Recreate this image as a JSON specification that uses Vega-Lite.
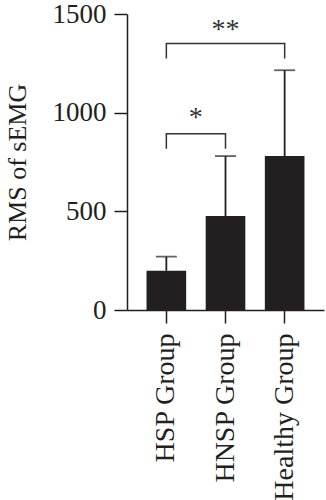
{
  "$schema": "https://vega.github.io/schema/vega-lite/v6.json",
  "autosize": "none",
  "width": 197,
  "height": 296,
  "padding": {"left": 127, "top": 14, "right": 2, "bottom": 190},
  "background": "white",
  "config": {
    "view": {"stroke": null},
    "font": "Liberation Serif"
  },
  "datasets": {
    "bars": [
      {"group": "HSP Group", "mean": 199, "upper": 270},
      {"group": "HNSP Group", "mean": 476, "upper": 780},
      {"group": "Healthy Group", "mean": 780, "upper": 1215}
    ],
    "brackets": [
      {"pair": "a", "group": "HSP Group", "y": 817, "i": 1},
      {"pair": "a", "group": "HSP Group", "y": 893, "i": 2},
      {"pair": "a", "group": "HNSP Group", "y": 893, "i": 3},
      {"pair": "a", "group": "HNSP Group", "y": 817, "i": 4},
      {"pair": "b", "group": "HSP Group", "y": 1274, "i": 1},
      {"pair": "b", "group": "HSP Group", "y": 1351, "i": 2},
      {"pair": "b", "group": "Healthy Group", "y": 1351, "i": 3},
      {"pair": "b", "group": "Healthy Group", "y": 1274, "i": 4}
    ],
    "star1": [{"group": "HSP Group", "y": 930, "label": "*"}],
    "star2": [{"group": "HNSP Group", "y": 1380, "label": "**"}]
  },
  "encoding": {
    "x": {
      "field": "group",
      "type": "nominal",
      "sort": ["HSP Group", "HNSP Group", "Healthy Group"],
      "scale": {"paddingInner": 0.33, "paddingOuter": 0.33},
      "axis": {
        "title": null,
        "labelAngle": -90,
        "labelFont": "Liberation Serif",
        "labelFontSize": 28,
        "labelColor": "#231f20",
        "labelPadding": 10,
        "tickSize": 13,
        "tickWidth": 1.5,
        "tickColor": "#231f20",
        "domainColor": "#231f20",
        "domainWidth": 1.5
      }
    }
  },
  "layer": [
    {
      "data": {"name": "bars"},
      "mark": {"type": "rule", "color": "#231f20", "strokeWidth": 1.8},
      "encoding": {
        "y": {"field": "mean", "type": "quantitative"},
        "y2": {"field": "upper"}
      }
    },
    {
      "data": {"name": "bars"},
      "mark": {"type": "tick", "color": "#231f20", "size": 21, "thickness": 1.8, "orient": "horizontal"},
      "encoding": {
        "y": {"field": "upper", "type": "quantitative"}
      }
    },
    {
      "data": {"name": "bars"},
      "mark": {"type": "bar", "color": "#231f20"},
      "encoding": {
        "y": {
          "field": "mean",
          "type": "quantitative",
          "scale": {"domain": [0, 1500], "nice": false},
          "axis": {
            "title": "RMS of sEMG",
            "values": [0, 500, 1000, 1500],
            "format": "d",
            "grid": false,
            "labelFont": "Liberation Serif",
            "labelFontSize": 27,
            "labelColor": "#231f20",
            "labelPadding": 8,
            "tickSize": 13,
            "tickWidth": 1.5,
            "tickColor": "#231f20",
            "domainColor": "#231f20",
            "domainWidth": 1.5,
            "titleFont": "Liberation Serif",
            "titleFontSize": 26,
            "titleFontWeight": "normal",
            "titleColor": "#231f20",
            "titlePadding": 22
          }
        }
      }
    },
    {
      "data": {"name": "brackets"},
      "mark": {"type": "line", "color": "#333333", "strokeWidth": 1.5},
      "encoding": {
        "y": {"field": "y", "type": "quantitative"},
        "detail": {"field": "pair"},
        "order": {"field": "i", "type": "quantitative"}
      }
    },
    {
      "data": {"name": "star1"},
      "mark": {"type": "text", "fontSize": 28, "color": "#333333", "font": "Liberation Serif", "baseline": "alphabetic"},
      "encoding": {
        "x": {"field": "group", "type": "nominal", "bandPosition": 1.244},
        "y": {"field": "y", "type": "quantitative"},
        "text": {"field": "label"}
      }
    },
    {
      "data": {"name": "star2"},
      "mark": {"type": "text", "fontSize": 28, "color": "#333333", "font": "Liberation Serif", "baseline": "alphabetic"},
      "encoding": {
        "y": {"field": "y", "type": "quantitative"},
        "text": {"field": "label"}
      }
    }
  ]
}
